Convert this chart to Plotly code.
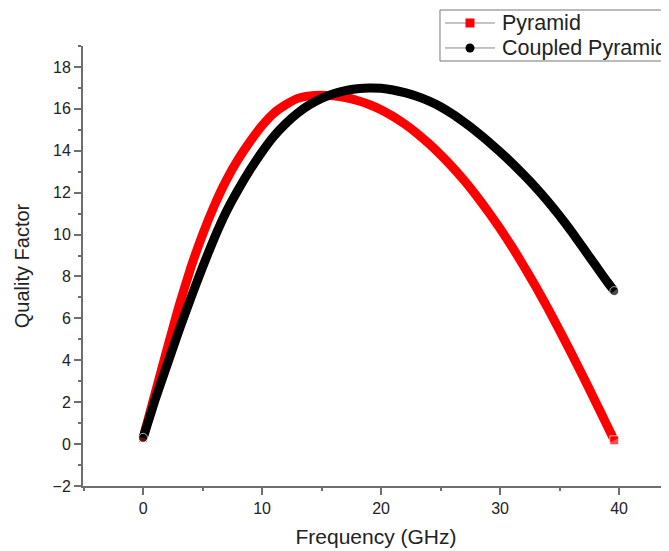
import plotly.graph_objects as go

# ---- data ----
freq_pyramid = [0, 1, 2, 3, 4, 5, 6, 7, 8, 9, 10, 11, 12, 13, 14, 15, 16, 17, 18, 19,
                20, 21, 22, 23, 24, 25, 26, 27, 28, 29, 30, 31, 32, 33, 34, 35, 36, 37,
                38, 39, 39.6]
q_pyramid = [0.3, 2.4, 4.5, 6.55, 8.4, 10.0, 11.4, 12.6, 13.6, 14.45, 15.2, 15.8, 16.2,
             16.5, 16.62, 16.65, 16.62, 16.54, 16.4, 16.21, 15.96, 15.64, 15.27, 14.84,
             14.35, 13.81, 13.22, 12.57, 11.86, 11.1, 10.29, 9.42, 8.49, 7.52, 6.5, 5.43,
             4.33, 3.2, 2.05, 0.88, 0.18]

freq_coupled = [0, 1, 2, 3, 4, 5, 6, 7, 8, 9, 10, 11, 12, 13, 14, 15, 16, 17, 18, 19,
                20, 21, 22, 23, 24, 25, 26, 27, 28, 29, 30, 31, 32, 33, 34, 35, 36, 37,
                38, 39, 39.6]
q_coupled = [0.3, 2.1, 3.75, 5.4, 6.95, 8.45, 9.85, 11.1, 12.15, 13.1, 13.95, 14.7, 15.3,
             15.8, 16.2, 16.5, 16.72, 16.87, 16.96, 17.0, 16.98, 16.9, 16.77, 16.6,
             16.38, 16.1, 15.75, 15.35, 14.92, 14.45, 13.95, 13.42, 12.85, 12.25, 11.6,
             10.9, 10.15, 9.35, 8.55, 7.75, 7.3]

series_names = ["Pyramid", "Coupled Pyramid"]
series_colors = ["#ff0000", "#000000"]
x_tick_vals = [0, 10, 20, 30, 40]
y_tick_vals = [-2, 0, 2, 4, 6, 8, 10, 12, 14, 16, 18]

FONT = "Liberation Sans, Arial, sans-serif"
AX = "#6e6e6e"
TXT = "#222222"
LW = 9


def end_sizes(n, s):
    return [s] + [0] * (n - 2) + [s]


fig = go.Figure()

fig.add_trace(go.Scatter(
    x=freq_pyramid, y=q_pyramid, mode="lines+markers", name=series_names[0],
    line=dict(color=series_colors[0], width=LW, shape="spline", smoothing=0.4),
    marker=dict(color=series_colors[0], size=end_sizes(len(freq_pyramid), LW), symbol="square"),
    hoverinfo="x+y"))
fig.add_trace(go.Scatter(
    x=freq_coupled, y=q_coupled, mode="lines+markers", name=series_names[1],
    line=dict(color=series_colors[1], width=LW, shape="spline", smoothing=0.4),
    marker=dict(color=series_colors[1], size=end_sizes(len(freq_coupled), LW), symbol="circle"),
    hoverinfo="x+y"))

# ---- legend box drawn as in the reference (thin line + symbol, box running off the right edge)
LEG_X0, LEG_X1 = 0.6092, 1.05
LEG_Y0, LEG_Y1 = 0.9659, 1.0818
ROW_Y = [1.0523, 0.9955]
LINE_X = (0.6177, 0.7031)
SYM_X = 0.6604
TEXT_X = 0.7116

shapes = [dict(type="rect", xref="paper", yref="paper", x0=LEG_X0, x1=LEG_X1,
               y0=LEG_Y0, y1=LEG_Y1, line=dict(color="#777777", width=1),
               fillcolor="white", layer="above")]
annotations = []
for name, color, ry, sym in zip(series_names, series_colors, ROW_Y, ["rect", "circle"]):
    shapes.append(dict(type="line", xref="paper", yref="paper", x0=LINE_X[0], x1=LINE_X[1],
                       y0=ry, y1=ry, line=dict(color="#888888", width=1), layer="above"))
    shapes.append(dict(type=sym, xref="paper", yref="paper",
                       xsizemode="pixel", ysizemode="pixel", xanchor=SYM_X, yanchor=ry,
                       x0=-4.5, x1=4.5, y0=-4.5, y1=4.5,
                       fillcolor=color, line=dict(color=color, width=0), layer="above"))
    annotations.append(dict(xref="paper", yref="paper", x=TEXT_X, y=ry, text=name,
                            xanchor="left", yanchor="middle", showarrow=False,
                            font=dict(size=21.5, family=FONT, color=TXT)))

# the page body adds an 8px offset, so the figure is 8px smaller than the window
fig.update_layout(
    width=661, height=543,
    margin=dict(l=75, r=0, t=38, b=65, autoexpand=False),
    paper_bgcolor="white", plot_bgcolor="white",
    font=dict(family=FONT, color=TXT),
    showlegend=False,
    shapes=shapes, annotations=annotations,
)

fig.update_xaxes(
    range=[-5.05, 44.2], tickvals=x_tick_vals, automargin=False,
    showgrid=False, zeroline=False,
    showline=True, linecolor=AX, linewidth=2,
    ticks="outside", ticklen=7, tickwidth=2, tickcolor=AX,
    minor=dict(dtick=5, tick0=0, ticks="outside", ticklen=3, tickwidth=2, tickcolor=AX),
    tickfont=dict(size=16, family=FONT, color=TXT),
    title=dict(text="Frequency (GHz)", font=dict(size=21, family=FONT, color=TXT),
               standoff=13),
)
fig.update_yaxes(
    range=[-2, 19], tickvals=y_tick_vals, automargin=False,
    showgrid=False, zeroline=False,
    showline=True, linecolor=AX, linewidth=2,
    ticks="outside", ticklen=7, tickwidth=2, tickcolor=AX,
    minor=dict(dtick=1, tick0=1, ticks="outside", ticklen=3, tickwidth=2, tickcolor=AX),
    tickfont=dict(size=16, family=FONT, color=TXT),
    title=dict(text="Quality Factor", font=dict(size=20, family=FONT, color=TXT),
               standoff=18),
)

fig.write_html("out.html")
